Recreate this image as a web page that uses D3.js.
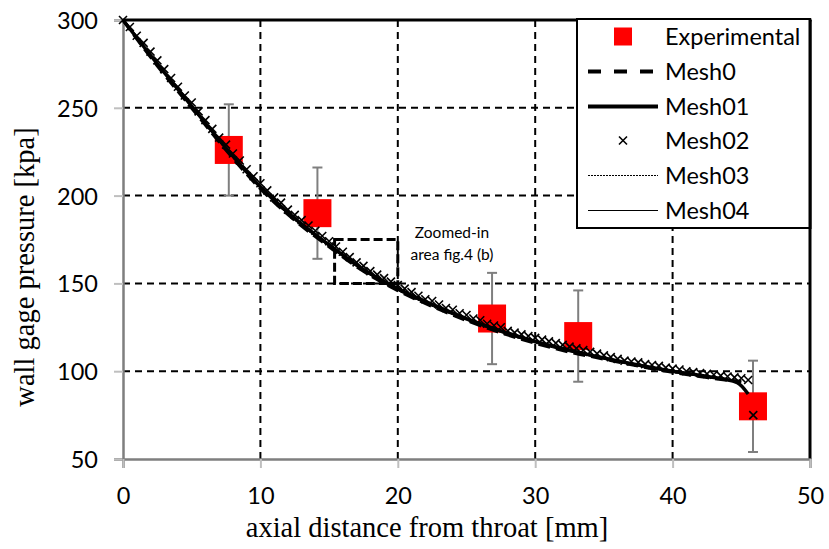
<!DOCTYPE html>
<html>
<head>
<meta charset="utf-8">
<script src="https://cdn.jsdelivr.net/npm/d3@7"></script>
<style>
  body { margin: 0; background: #fff; }
</style>
</head>
<body>
<div id="chart"></div>
<script>
// data
const xTicks = [0, 10, 20, 30, 40, 50];
const yTicks = [50, 100, 150, 200, 250, 300];

const expX = [7.7, 14.15, 26.86, 33.13, 45.85];
const expY = [226, 190, 130, 120, 80];
const expErr = [26, 26, 26, 26, 26];

const meshX = [0, 2.5, 5, 7.5, 10, 12.5, 15, 17.5, 20, 22.5, 25, 27.5, 30, 32.5, 35, 37.5, 40, 42.5, 45];
const mesh0Y = [300, 274, 250, 226, 204, 186, 171, 157, 146, 137, 129, 122, 116, 111, 107, 103, 99.5, 96.5, 94];
const mesh01X = [0, 2.5, 5, 7.5, 10, 12.5, 15, 17.5, 20, 22.5, 25, 27.5, 30, 32.5, 35, 37.5, 40, 42.5, 44.7, 45.5];
const mesh01Y = [300, 275, 251, 227, 205, 187, 172, 158, 147, 138, 130, 123, 117, 112, 107.5, 103.5, 100, 97, 93.5, 87];
const mesh03Y = [300, 275, 250, 226, 204, 186, 171, 157, 146, 137, 129.5, 122.5, 116.5, 111.5, 107, 103, 99.5, 96.5, 94];
const mesh04Y = [300, 275, 251, 227, 204, 186, 171, 157, 146, 137, 129, 122, 116, 111, 107, 103, 99.5, 96.5, 94];

const mesh02X = [0, 0.5, 1, 1.5, 2, 2.5, 3, 3.5, 4, 4.5, 5, 5.5, 6, 6.5, 7, 7.5, 8, 8.5, 9, 9.5,
  10, 10.5, 11, 11.5, 12, 12.5, 13, 13.5, 14, 14.5, 15, 15.5, 16, 16.5, 17, 17.5, 18, 18.5, 19, 19.5,
  20, 20.5, 21, 21.5, 22, 22.5, 23, 23.5, 24, 24.5, 25, 25.5, 26, 26.5, 27, 27.5, 28, 28.5, 29, 29.5,
  30, 30.5, 31, 31.5, 32, 32.5, 33, 33.5, 34, 34.5, 35, 35.5, 36, 36.5, 37, 37.5, 38, 38.5, 39, 39.5,
  40, 40.5, 41, 41.5, 42, 42.5, 43, 43.5, 44, 44.5, 45, 45.5, 45.87];
const mesh02Y = [300, 296, 291, 287, 282, 277, 272, 267, 262, 257,
  253, 248, 243, 238, 233, 229, 224, 220, 215, 211,
  207, 203, 199, 196, 192, 189, 186, 183, 180, 177,
  174, 171, 168, 165, 162, 160, 157, 155, 153, 151,
  149, 147, 145, 143, 141, 140, 138, 136, 135, 133,
  132, 130, 129, 127, 126, 125, 123, 122, 121, 120,
  119, 118, 117, 116, 115, 114, 113, 112, 111, 110,
  109, 108, 107, 106, 105.5, 105, 104, 103.5, 103, 102,
  101.5, 101, 100, 99.5, 99, 98.5, 98, 97.5, 97, 96.5,
  96, 95, 75];

const zoomBoxX = [15.4, 20];
const zoomBoxY = [150, 175];
const zoomText = ["Zoomed-in", "area fig.4 (b)"];

const legendLabels = ["Experimental", "Mesh0", "Mesh01", "Mesh02", "Mesh03", "Mesh04"];

// Create chart dimensions and scales
const width = 829, height = 549;
const pLeft = 123, pRight = 810, pTop = 20, pBottom = 459;
const sans = "Lato, 'Open Sans', sans-serif";
const serif = "'Liberation Serif', 'Times New Roman', serif";

const x = d3.scaleLinear().domain([0, 50]).range([pLeft, pRight]);
const y = d3.scaleLinear().domain([50, 300]).range([pBottom, pTop]);

const svg = d3.select("#chart").append("svg")
    .attr("width", width)
    .attr("height", height);

// grid lines
svg.append("g")
    .attr("stroke", "#000")
    .attr("stroke-width", 2)
    .attr("stroke-dasharray", "7,5")
    .selectAll("line")
    .data(yTicks.filter(d => d > 50 && d < 300))
    .enter().append("line")
    .attr("x1", pLeft).attr("x2", pRight)
    .attr("y1", d => y(d)).attr("y2", d => y(d));

svg.append("g")
    .attr("stroke", "#000")
    .attr("stroke-width", 2)
    .attr("stroke-dasharray", "7,5")
    .selectAll("line")
    .data(xTicks.filter(d => d > 0 && d < 50))
    .enter().append("line")
    .attr("y1", pTop).attr("y2", pBottom)
    .attr("x1", d => x(d)).attr("x2", d => x(d));

// frame: top and right black, axes gray
svg.append("line").attr("x1", pLeft).attr("x2", pRight + 1.5).attr("y1", pTop).attr("y2", pTop)
    .attr("stroke", "#000").attr("stroke-width", 3);
svg.append("line").attr("x1", pRight).attr("x2", pRight).attr("y1", pTop).attr("y2", pBottom)
    .attr("stroke", "#000").attr("stroke-width", 3);

const yAxis = svg.append("g")
    .attr("transform", "translate(" + pLeft + ",0)")
    .call(d3.axisLeft(y).tickValues(yTicks).tickSize(9).tickPadding(16));
const xAxis = svg.append("g")
    .attr("transform", "translate(0," + pBottom + ")")
    .call(d3.axisBottom(x).tickValues(xTicks).tickSize(9).tickPadding(36));

[yAxis, xAxis].forEach(a => {
    a.select(".domain").attr("stroke", "#7f7f7f").attr("stroke-width", 2.5);
    a.selectAll(".tick line").attr("stroke", "#bfbfbf").attr("stroke-width", 2);
    a.selectAll(".tick text")
        .attr("fill", "#000")
        .attr("font-family", sans)
        .attr("font-size", "23.5px");
});
xAxis.selectAll(".tick text").attr("dy", "0");
yAxis.selectAll(".tick text").attr("dy", "0.36em");

// axis titles
svg.append("text")
    .attr("x", 427).attr("y", 537)
    .attr("text-anchor", "middle")
    .attr("font-family", serif)
    .attr("font-size", "28.5px")
    .text("axial distance from throat [mm]");

svg.append("text")
    .attr("transform", "translate(34,267)rotate(-90)")
    .attr("text-anchor", "middle")
    .attr("font-family", serif)
    .attr("font-size", "28.5px")
    .text("wall gage pressure [kpa]");

// error bars and experimental squares
const exp = expX.map((d, i) => ({x: d, y: expY[i], e: expErr[i]}));

const err = svg.append("g")
    .attr("stroke", "#7f7f7f")
    .attr("stroke-width", 2)
    .selectAll("g")
    .data(exp)
    .enter().append("g");
err.append("line")
    .attr("x1", d => x(d.x)).attr("x2", d => x(d.x))
    .attr("y1", d => y(d.y + d.e)).attr("y2", d => y(d.y - d.e));
err.append("line")
    .attr("x1", d => x(d.x) - 5).attr("x2", d => x(d.x) + 5)
    .attr("y1", d => y(d.y + d.e)).attr("y2", d => y(d.y + d.e));
err.append("line")
    .attr("x1", d => x(d.x) - 5).attr("x2", d => x(d.x) + 5)
    .attr("y1", d => y(d.y - d.e)).attr("y2", d => y(d.y - d.e));

svg.append("g")
    .attr("fill", "#ff0000")
    .selectAll("rect")
    .data(exp)
    .enter().append("rect")
    .attr("x", d => x(d.x) - 14)
    .attr("y", d => y(d.y) - 14)
    .attr("width", 28)
    .attr("height", 28);

// mesh curves
const line = d3.line()
    .x(d => x(d[0]))
    .y(d => y(d[1]))
    .curve(d3.curveMonotoneX);

const meshes = [
    {xs: meshX, ys: mesh04Y, w: 1, dash: null},
    {xs: meshX, ys: mesh03Y, w: 1, dash: "2,1"},
    {xs: meshX, ys: mesh0Y, w: 3.5, dash: "12,6"},
    {xs: mesh01X, ys: mesh01Y, w: 3.5, dash: null}
];

svg.append("g")
    .attr("fill", "none")
    .attr("stroke", "#000")
    .selectAll("path")
    .data(meshes)
    .enter().append("path")
    .attr("stroke-width", d => d.w)
    .attr("stroke-dasharray", d => d.dash)
    .attr("d", d => line(d.xs.map((v, i) => [v, d.ys[i]])));

// Mesh02 markers
const cross = "M-4,-4L4,4M-4,4L4,-4";
svg.append("g")
    .attr("fill", "none")
    .attr("stroke", "#000")
    .attr("stroke-width", 1.6)
    .selectAll("path")
    .data(mesh02X.map((d, i) => [d, mesh02Y[i]]))
    .enter().append("path")
    .attr("transform", d => "translate(" + x(d[0]) + "," + y(d[1]) + ")")
    .attr("d", cross);

// zoomed-in area box
svg.append("rect")
    .attr("x", x(zoomBoxX[0]))
    .attr("y", y(zoomBoxY[1]))
    .attr("width", x(zoomBoxX[1]) - x(zoomBoxX[0]))
    .attr("height", y(zoomBoxY[0]) - y(zoomBoxY[1]))
    .attr("fill", "none")
    .attr("stroke", "#000")
    .attr("stroke-width", 3)
    .attr("stroke-dasharray", "9,4");

svg.append("g")
    .selectAll("text")
    .data(zoomText)
    .enter().append("text")
    .attr("x", 452)
    .attr("y", (d, i) => 238 + i * 22)
    .attr("text-anchor", "middle")
    .attr("font-family", sans)
    .attr("font-size", "15.5px")
    .text(d => d);

// legend
const lg = svg.append("g");
lg.append("rect")
    .attr("x", 577).attr("y", 19)
    .attr("width", pRight - 577).attr("height", 209)
    .attr("fill", "#fff")
    .attr("stroke", "#000")
    .attr("stroke-width", 2);
svg.append("line").attr("x1", pRight).attr("x2", pRight).attr("y1", pTop).attr("y2", 229)
    .attr("stroke", "#000").attr("stroke-width", 3);

const rowY = i => Math.round(36 + i * 34.8) + 0.5;
const item = lg.selectAll("g.item")
    .data(legendLabels)
    .enter().append("g")
    .attr("transform", (d, i) => "translate(0," + rowY(i) + ")");

item.append("text")
    .attr("x", 665)
    .attr("dy", "0.36em")
    .attr("font-family", sans)
    .attr("font-size", "23.5px")
    .text(d => d);

item.filter((d, i) => i === 0).append("rect")
    .attr("x", 614).attr("y", -9).attr("width", 18).attr("height", 18)
    .attr("fill", "#ff0000");
item.filter((d, i) => i === 1).append("line")
    .attr("x1", 588).attr("x2", 658)
    .attr("stroke", "#000").attr("stroke-width", 4).attr("stroke-dasharray", "13,13");
item.filter((d, i) => i === 2).append("line")
    .attr("x1", 588).attr("x2", 658)
    .attr("stroke", "#000").attr("stroke-width", 4);
item.filter((d, i) => i === 3).append("path")
    .attr("transform", "translate(623,0)")
    .attr("d", cross)
    .attr("fill", "none").attr("stroke", "#000").attr("stroke-width", 1.6);
item.filter((d, i) => i === 4).append("line")
    .attr("x1", 588).attr("x2", 658)
    .attr("stroke", "#000").attr("stroke-width", 1).attr("stroke-dasharray", "2,1");
item.filter((d, i) => i === 5).append("line")
    .attr("x1", 588).attr("x2", 658)
    .attr("stroke", "#000").attr("stroke-width", 1);
</script>
</body>
</html>
